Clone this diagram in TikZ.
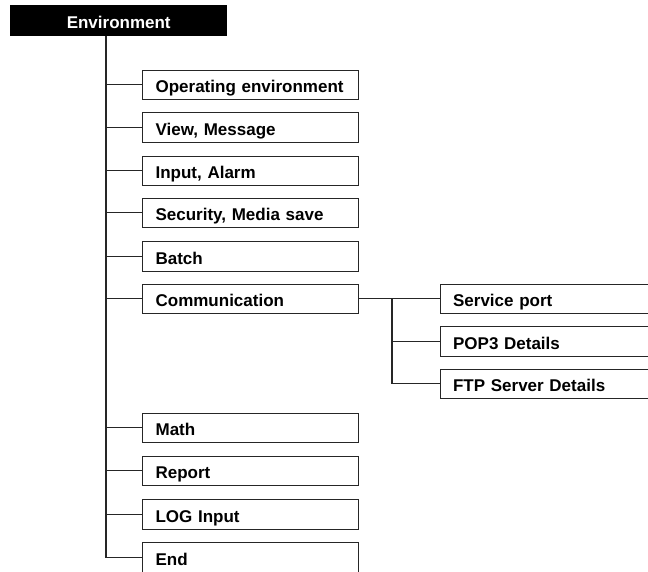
\documentclass[tikz,border=0pt]{standalone}
\usepackage{fontspec}
\setmainfont{Liberation Sans}
\usetikzlibrary{positioning}

\begin{document}
\begin{tikzpicture}[x=1pt, y=-1pt,
    every node/.style={font=\fontsize{17}{20}\selectfont\bfseries},
    item/.style={draw=black!85, line width=1.2pt, fill=white, anchor=north west,
      minimum width=216pt, minimum height=29.5pt, text width=190pt,
      text height=15.5pt, text depth=0pt,
      inner xsep=13pt, inner ysep=0pt, align=left},
    subitem/.style={item, minimum width=232pt, text width=206pt},
    link/.style={black!85, line width=1.2pt}]
  \useasboundingbox (0,0) rectangle (648,571);
  % title bar
  \node[fill=black, text=white, anchor=north west, minimum width=217pt,
        minimum height=30.5pt, text height=16.5pt, text depth=0pt,
        inner sep=0pt] (env) at (10,5) {Environment};
  % first level
  \node[item] (oper)  at (142,69.5)  {Operating environment};
  \node[item] (view)  at (142,112)   {View, Message};
  \node[item] (input) at (142,155.5) {Input, Alarm};
  \node[item] (secur) at (142,197.5) {Security, Media save};
  \node[item] (batch) at (142,241)   {Batch};
  \node[item] (comm)  at (142,283.5) {Communication};
  \node[item] (math)  at (142,412.5) {Math};
  \node[item] (rep)   at (142,455.5) {Report};
  \node[item] (log)   at (142,499)   {LOG Input};
  \node[item] (end)   at (142,542)   {End};
  % second level
  \node[subitem] (port) at (439.5,283.5) {Service port};
  \node[subitem] (pop)  at (439.5,326)   {POP3 Details};
  \node[subitem] (ftp)  at (439.5,368.5) {FTP Server Details};
  % trunk
  \coordinate (trunk) at (106,35.5);
  \draw[link] (trunk) |- (end.west);
  \draw[link] (trunk |- oper.west)  -- (oper.west);
  \draw[link] (trunk |- view.west)  -- (view.west);
  \draw[link] (trunk |- input.west) -- (input.west);
  \draw[link] (trunk |- secur.west) -- (secur.west);
  \draw[link] (trunk |- batch.west) -- (batch.west);
  \draw[link] (trunk |- comm.west)  -- (comm.west);
  \draw[link] (trunk |- math.west)  -- (math.west);
  \draw[link] (trunk |- rep.west)   -- (rep.west);
  \draw[link] (trunk |- log.west)   -- (log.west);
  % communication branch
  \coordinate (sub) at (392,298.5);
  \draw[link] (comm.east) -- (port.west);
  \draw[link] (sub) |- (ftp.west);
  \draw[link] (sub |- pop.west) -- (pop.west);
\end{tikzpicture}
\end{document}
